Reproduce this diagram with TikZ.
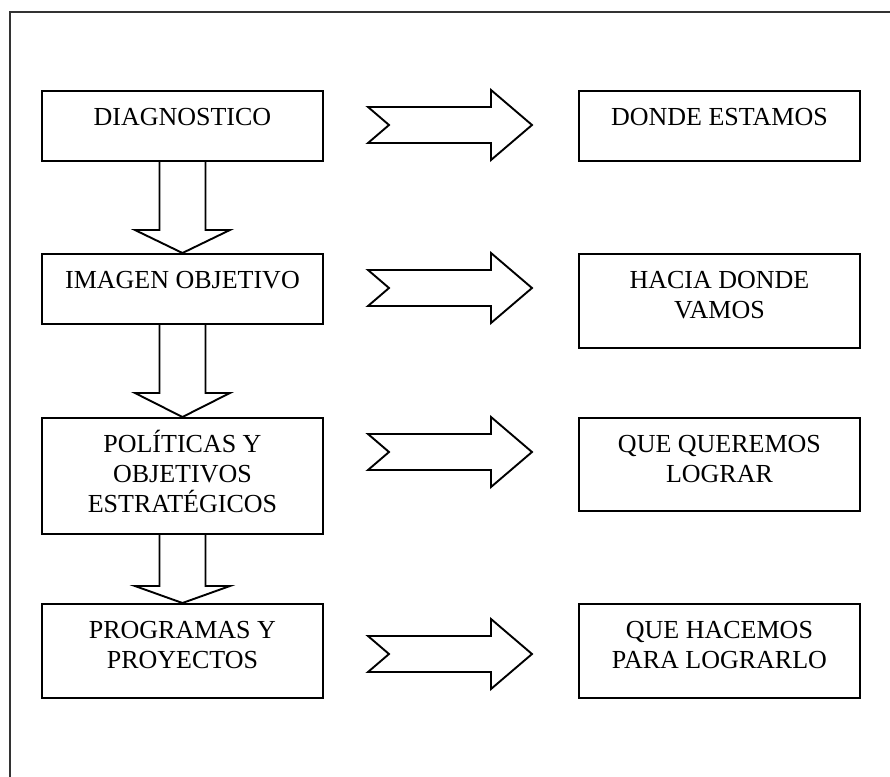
\documentclass[tikz,border=0pt]{standalone}
\usepackage{fontspec}
\setmainfont{Liberation Serif}
\usetikzlibrary{calc}
\newcommand\firststrut{\rule{0pt}{24pt}}
\tikzset{
  x=1pt, y=-1pt,
  box/.style={draw, line width=1.9pt, rectangle, anchor=north west, inner sep=0pt, minimum width=281pt},
  txt/.style={anchor=north, inner sep=0pt, align=center, font=\fontsize{26}{30}\selectfont},
  arr/.style={draw, line width=1.9pt, line join=miter},
  frame/.style={draw, line width=2pt, black!80}
}
\newcommand\boxtext[2]{\node[txt] (#1t) at ([yshift=-11pt]#1.north) {\firststrut #2};}
\newcommand\downarr[3]{%
  \draw[arr] ($(#1.south)+(-23,0)$) -- ($(#2.north)+(-23,-#3)$) -- ($(#2.north)+(-47.5,-#3)$)
    -- (#2.north) -- ($(#2.north)+(47.5,-#3)$) -- ($(#2.north)+(23,-#3)$) -- ($(#1.south)+(23,0)$);}
\newcommand\rightarr[1]{%
  \draw[arr] (#1) ++(-82,-18) -- ++(123,0) -- ++(0,-17) -- ++(41,35) -- ++(-41,35)
    -- ++(0,-17) -- ++(-123,0) -- ++(21,-18) -- cycle;}
\begin{document}
\begin{tikzpicture}
\useasboundingbox (0,0) rectangle (890,776);
\draw[frame] (10,777) -- (10,12.5) -- (891,12.5);

% left column
\node[box, minimum height=70pt]  (b1) at (41,90)  {};
\node[box, minimum height=70pt]  (b2) at (41,253) {};
\node[box, minimum height=116pt] (b3) at (41,417) {};
\node[box, minimum height=94pt]  (b4) at (41,603) {};
\boxtext{b1}{DIAGNOSTICO}
\boxtext{b2}{IMAGEN OBJETIVO}
\boxtext{b3}{POLÍTICAS Y\\OBJETIVOS\\ESTRATÉGICOS}
\boxtext{b4}{PROGRAMAS Y\\PROYECTOS}

% right column
\node[box, minimum height=70pt] (c1) at (578,90)  {};
\node[box, minimum height=94pt] (c2) at (578,253) {};
\node[box, minimum height=93pt] (c3) at (578,417) {};
\node[box, minimum height=94pt] (c4) at (578,603) {};
\boxtext{c1}{DONDE ESTAMOS}
\boxtext{c2}{HACIA DONDE\\VAMOS}
\boxtext{c3}{QUE QUEREMOS\\LOGRAR}
\boxtext{c4}{QUE HACEMOS\\PARA LOGRARLO}

% down arrows
\downarr{b1}{b2}{23}
\downarr{b2}{b3}{24}
\downarr{b3}{b4}{17}

% right arrows
\coordinate (a1) at (450,125);
\coordinate (a2) at (450,288);
\coordinate (a3) at (450,452);
\coordinate (a4) at (450,654);
\rightarr{a1}
\rightarr{a2}
\rightarr{a3}
\rightarr{a4}
\end{tikzpicture}
\end{document}
